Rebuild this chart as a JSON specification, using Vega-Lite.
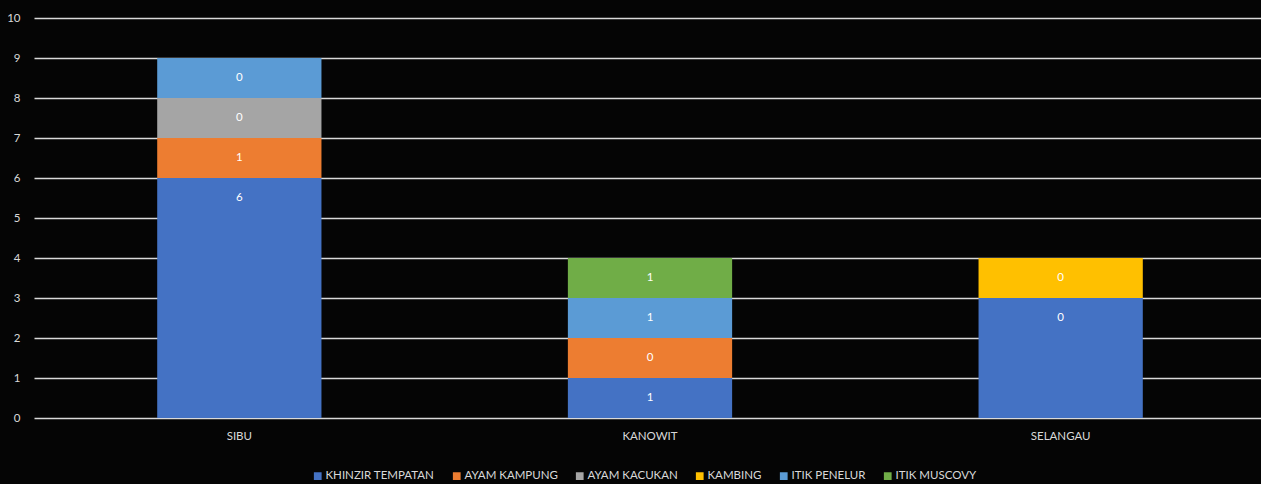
{
  "$schema": "https://vega.github.io/schema/vega-lite/v6.json",
  "width": 1232,
  "height": 400,
  "autosize": "none",
  "padding": {"left": 34, "top": 18, "right": 0, "bottom": 66},
  "background": "#050505",
  "config": {
    "view": {"stroke": null},
    "font": "Lato",
    "axis": {"labelColor": "#d9d9d9", "labelFontSize": 11.5, "title": null, "ticks": false, "domain": false},
    "legend": {"labelColor": "#d9d9d9", "labelFontSize": 11.5}
  },
  "data": {
    "values": [
      {"region": "SIBU", "animal": "KHINZIR TEMPATAN", "value": 6, "label": "6"},
      {"region": "SIBU", "animal": "AYAM KAMPUNG", "value": 1, "label": "1"},
      {"region": "SIBU", "animal": "AYAM KACUKAN", "value": 1, "label": "0"},
      {"region": "SIBU", "animal": "ITIK PENELUR", "value": 1, "label": "0"},
      {"region": "KANOWIT", "animal": "KHINZIR TEMPATAN", "value": 1, "label": "1"},
      {"region": "KANOWIT", "animal": "AYAM KAMPUNG", "value": 1, "label": "0"},
      {"region": "KANOWIT", "animal": "ITIK PENELUR", "value": 1, "label": "1"},
      {"region": "KANOWIT", "animal": "ITIK MUSCOVY", "value": 1, "label": "1"},
      {"region": "SELANGAU", "animal": "KHINZIR TEMPATAN", "value": 3, "label": "0"},
      {"region": "SELANGAU", "animal": "KAMBING", "value": 1, "label": "0"}
    ]
  },
  "transform": [
    {"calculate": "indexof(['KHINZIR TEMPATAN','AYAM KAMPUNG','AYAM KACUKAN','KAMBING','ITIK PENELUR','ITIK MUSCOVY'], datum.animal)", "as": "ord"},
    {"stack": "value", "groupby": ["region"], "sort": [{"field": "ord", "order": "ascending"}], "as": ["y0", "y1"]},
    {"calculate": "datum.y1 - 0.5", "as": "labelPos"}
  ],
  "encoding": {
    "x": {
      "field": "region", "type": "nominal",
      "sort": ["SIBU", "KANOWIT", "SELANGAU"],
      "scale": {"paddingInner": 0.6, "paddingOuter": 0.3},
      "axis": {"labelAngle": 0, "labelPadding": 12, "grid": false}
    }
  },
  "layer": [
    {
      "mark": {"type": "bar"},
      "encoding": {
        "y": {
          "field": "y0", "type": "quantitative",
          "scale": {"domain": [0, 10]},
          "axis": {"values": [0,1,2,3,4,5,6,7,8,9,10], "grid": true, "gridColor": "#d9d9d9", "gridWidth": 1.5, "labelPadding": 14}
        },
        "y2": {"field": "y1"},
        "color": {
          "field": "animal", "type": "nominal",
          "scale": {
            "domain": ["KHINZIR TEMPATAN", "AYAM KAMPUNG", "AYAM KACUKAN", "KAMBING", "ITIK PENELUR", "ITIK MUSCOVY"],
            "range": ["#4472C4", "#ED7D31", "#A5A5A5", "#FFC000", "#5B9BD5", "#70AD47"]
          },
          "legend": {
            "title": null, "orient": "none", "direction": "horizontal",
            "legendX": 278, "legendY": 452,
            "symbolType": "square", "symbolSize": 60, "symbolStrokeWidth": 0,
            "labelOffset": 2, "columnPadding": 16
          }
        }
      }
    },
    {
      "mark": {"type": "text", "color": "#ffffff", "fontSize": 11.5},
      "encoding": {
        "y": {
          "field": "labelPos", "type": "quantitative",
          "scale": {"domain": [0, 10]},
          "axis": {"values": [0,1,2,3,4,5,6,7,8,9,10], "grid": true, "gridColor": "#d9d9d9", "gridWidth": 1.5, "labelPadding": 14}
        },
        "text": {"field": "label"}
      }
    }
  ]
}
